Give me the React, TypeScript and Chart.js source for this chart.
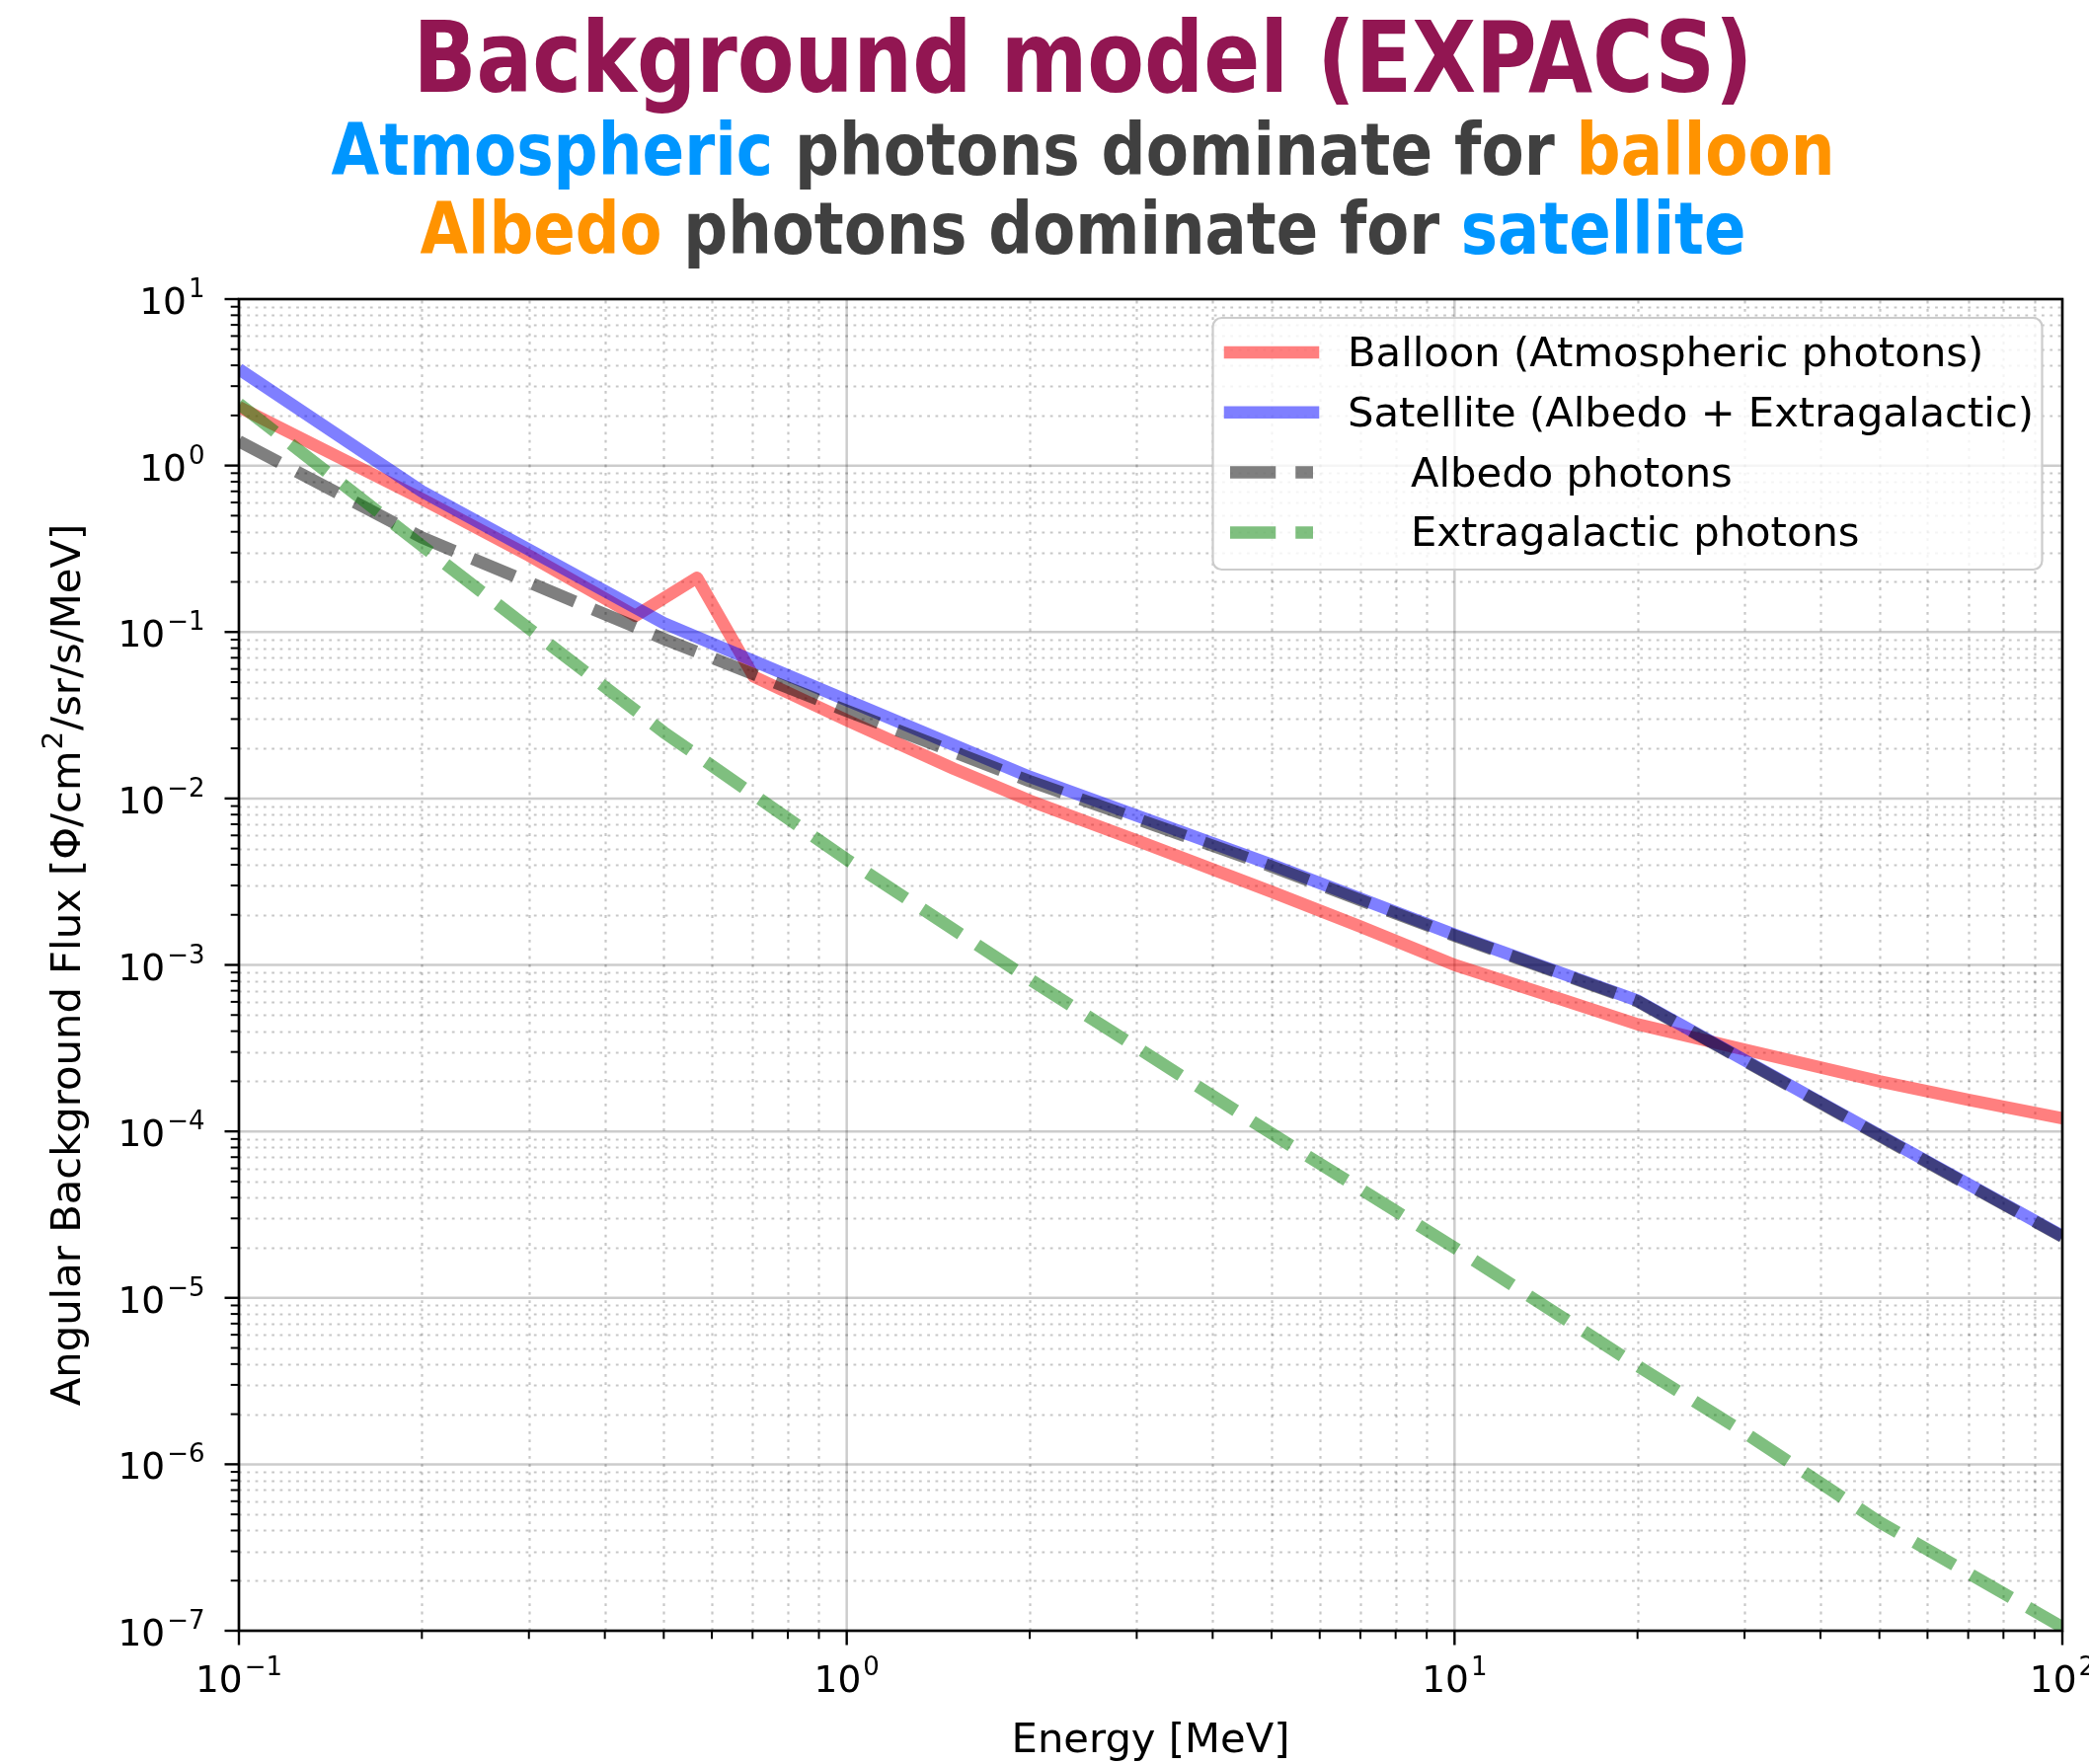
import React, { useEffect, useRef } from 'react';
import { Chart, registerables } from 'chart.js';

Chart.register(...registerables);

// ---------------- data ----------------
const balloonEnergy = [0.1, 0.2, 0.3, 0.449, 0.567, 0.703, 1, 1.5, 2, 3, 5, 7, 10, 15, 20, 30, 50, 70, 100];
const balloonFlux = [2.25, 0.63, 0.288, 0.125, 0.212, 0.054, 0.0295, 0.0151, 0.0097, 0.0056, 0.00275, 0.0017, 0.001, 0.00062, 0.00044, 0.00031, 0.0002, 0.000155, 0.00012];

const satelliteEnergy = [0.1, 0.2, 0.5, 1, 2, 5, 10, 20, 50, 100];
const satelliteFlux = [3.8, 0.7, 0.113, 0.039, 0.0135, 0.004, 0.00152, 0.00061, 0.000095, 0.0000235];

const albedoEnergy = [0.1, 0.2, 0.5, 1, 2, 5, 10, 20, 50, 100];
const albedoFlux = [1.4, 0.37, 0.091, 0.0336, 0.0127, 0.0039, 0.0015, 0.000605, 0.000094, 0.0000233];

const extraEnergy = [0.1, 0.2, 0.3, 0.5, 1, 2, 3, 5, 10, 20, 30, 50, 100];
const extraFlux = [2.35, 0.33, 0.105, 0.025, 0.0043, 0.00082, 0.00032, 0.000097, 0.00002, 0.0000039, 0.00000155, 0.00000045, 0.000000105];

const seriesLabels = ['Balloon (Atmospheric photons)', 'Satellite (Albedo + Extragalactic)', 'Albedo photons', 'Extragalactic photons'];
const seriesColors = ['rgba(255,0,0,0.5)', 'rgba(0,0,255,0.5)', 'rgba(0,0,0,0.5)', 'rgba(0,128,0,0.5)'];
const seriesDashed = [false, false, true, true];

const xTickExponents = [-1, 0, 1, 2];
const yTickExponents = [1, 0, -1, -2, -3, -4, -5, -6, -7];
const minorMultipliers = [2, 3, 4, 5, 6, 7, 8, 9];

const xAxisTitle = 'Energy [MeV]';
const yAxisTitleParts = ['Angular Background Flux [Φ/cm', '2', '/sr/s/MeV]'];

const MAROON = '#921652';
const BLUE = '#0096FF';
const ORANGE = '#FF9300';
const DARK = '#404040';
const titleSegments = [{ text: 'Background model (EXPACS)', color: MAROON }];
const subtitle1Segments = [
  { text: 'Atmospheric', color: BLUE },
  { text: ' photons dominate for ', color: DARK },
  { text: 'balloon', color: ORANGE },
];
const subtitle2Segments = [
  { text: 'Albedo', color: ORANGE },
  { text: ' photons dominate for ', color: DARK },
  { text: 'satellite', color: BLUE },
];

// ---------------- layout constants ----------------
const W = 2116;
const H = 1787;
const LW = 12.5;
const DASH = [46.25, 20];
const TICK_FONT = "37.5px 'DejaVu Sans', sans-serif";
const SUP_FONT = "26px 'DejaVu Sans', sans-serif";
const LABEL_FONT = "41.7px 'DejaVu Sans', sans-serif";
const LABEL_SUP_FONT = "29px 'DejaVu Sans', sans-serif";
const TITLE_FAMILY = "'DejaVu Sans Condensed', 'DejaVu Sans', sans-serif";

function toPoints(xs: number[], ys: number[]) {
  return xs.map((x, i) => ({ x, y: ys[i] }));
}

function drawSegments(ctx: CanvasRenderingContext2D, segs: { text: string; color: string }[], font: string, cx: number, baseline: number, targetWidth: number) {
  ctx.save();
  ctx.font = font;
  ctx.textBaseline = 'alphabetic';
  ctx.textAlign = 'left';
  const widths = segs.map((s) => ctx.measureText(s.text).width);
  const total = widths.reduce((a, b) => a + b, 0);
  const sx = targetWidth / total;
  ctx.translate(cx - targetWidth / 2, baseline);
  ctx.scale(sx, 1);
  let x = 0;
  segs.forEach((s, i) => {
    ctx.fillStyle = s.color;
    ctx.fillText(s.text, x, 0);
    x += widths[i];
  });
  ctx.restore();
}

function supLabel(e: number) {
  return e < 0 ? '\u2212' + Math.abs(e) : String(e);
}

const decorPlugin = {
  id: 'decor',
  beforeDraw(chart: any) {
    const ctx = chart.ctx as CanvasRenderingContext2D;
    ctx.save();
    ctx.fillStyle = '#ffffff';
    ctx.fillRect(0, 0, chart.width, chart.height);
    ctx.restore();
  },
  beforeDatasetsDraw(chart: any) {
    const ctx = chart.ctx as CanvasRenderingContext2D;
    const xs = chart.scales.x;
    const ys = chart.scales.y;
    const a = chart.chartArea;
    ctx.save();
    // minor grid (dotted)
    ctx.strokeStyle = 'rgba(0,0,0,0.22)';
    ctx.lineWidth = 2.2;
    ctx.setLineDash([2.8, 5.5]);
    for (let e = -1; e < 2; e++) {
      for (const m of minorMultipliers) {
        const px = Math.round(xs.getPixelForValue(m * Math.pow(10, e))) + 0.5;
        ctx.beginPath();
        ctx.moveTo(px, a.bottom);
        ctx.lineTo(px, a.top);
        ctx.stroke();
      }
    }
    for (let e = -7; e < 1; e++) {
      for (const m of minorMultipliers) {
        const py = Math.round(ys.getPixelForValue(m * Math.pow(10, e))) + 0.5;
        ctx.beginPath();
        ctx.moveTo(a.left, py);
        ctx.lineTo(a.right, py);
        ctx.stroke();
      }
    }
    // major grid (solid)
    ctx.setLineDash([]);
    ctx.strokeStyle = 'rgba(0,0,0,0.2)';
    ctx.lineWidth = 2.5;
    for (const e of xTickExponents) {
      const px = xs.getPixelForValue(Math.pow(10, e));
      ctx.beginPath();
      ctx.moveTo(px, a.bottom);
      ctx.lineTo(px, a.top);
      ctx.stroke();
    }
    for (const e of yTickExponents) {
      const py = ys.getPixelForValue(Math.pow(10, e));
      ctx.beginPath();
      ctx.moveTo(a.left, py);
      ctx.lineTo(a.right, py);
      ctx.stroke();
    }
    ctx.restore();
  },
  afterDatasetsDraw(chart: any) {
    const ctx = chart.ctx as CanvasRenderingContext2D;
    const xs = chart.scales.x;
    const ys = chart.scales.y;
    const a = chart.chartArea;
    ctx.save();
    // spines
    ctx.strokeStyle = '#000';
    ctx.lineWidth = 2.6;
    ctx.strokeRect(a.left, a.top, a.right - a.left, a.bottom - a.top);

    // ticks
    ctx.lineWidth = 2.4;
    for (const e of xTickExponents) {
      const px = xs.getPixelForValue(Math.pow(10, e));
      ctx.beginPath();
      ctx.moveTo(px, a.bottom);
      ctx.lineTo(px, a.bottom + 14.5);
      ctx.stroke();
    }
    ctx.lineWidth = 2;
    for (let e = -1; e < 2; e++) {
      for (const m of minorMultipliers) {
        const px = xs.getPixelForValue(m * Math.pow(10, e));
        ctx.beginPath();
        ctx.moveTo(px, a.bottom);
        ctx.lineTo(px, a.bottom + 8.3);
        ctx.stroke();
      }
    }
    ctx.lineWidth = 2.4;
    for (const e of yTickExponents) {
      const py = ys.getPixelForValue(Math.pow(10, e));
      ctx.beginPath();
      ctx.moveTo(a.left, py);
      ctx.lineTo(a.left - 14.5, py);
      ctx.stroke();
    }
    ctx.lineWidth = 2;
    for (let e = -7; e < 1; e++) {
      for (const m of minorMultipliers) {
        const py = ys.getPixelForValue(m * Math.pow(10, e));
        ctx.beginPath();
        ctx.moveTo(a.left, py);
        ctx.lineTo(a.left - 8.3, py);
        ctx.stroke();
      }
    }

    // tick labels
    ctx.fillStyle = '#000';
    ctx.textBaseline = 'alphabetic';
    ctx.textAlign = 'left';
    const gap = 2;
    for (const e of yTickExponents) {
      const py = ys.getPixelForValue(Math.pow(10, e));
      ctx.font = TICK_FONT;
      const wb = ctx.measureText('10').width;
      ctx.font = SUP_FONT;
      const sup = supLabel(e);
      const wsp = ctx.measureText(sup).width;
      const right = 207.5;
      const bx = right - wsp - gap - wb;
      ctx.font = TICK_FONT;
      ctx.fillText('10', bx, py + 15);
      ctx.font = SUP_FONT;
      ctx.fillText(sup, bx + wb + gap, py + 15 - 17);
    }
    for (const e of xTickExponents) {
      const px = xs.getPixelForValue(Math.pow(10, e));
      ctx.font = TICK_FONT;
      const wb = ctx.measureText('10').width;
      ctx.font = SUP_FONT;
      const sup = supLabel(e);
      const wsp = ctx.measureText(sup).width;
      const bx = px - (wb + gap + wsp) / 2;
      ctx.font = TICK_FONT;
      ctx.fillText('10', bx, 1713.5);
      ctx.font = SUP_FONT;
      ctx.fillText(sup, bx + wb + gap, 1713.5 - 17);
    }

    // axis titles
    ctx.font = LABEL_FONT;
    ctx.textAlign = 'center';
    ctx.fillText(xAxisTitle, (a.left + a.right) / 2, 1775);

    ctx.save();
    ctx.translate(81, (a.top + a.bottom) / 2);
    ctx.rotate(-Math.PI / 2);
    ctx.textAlign = 'left';
    ctx.font = LABEL_FONT;
    const w0 = ctx.measureText(yAxisTitleParts[0]).width;
    const w2 = ctx.measureText(yAxisTitleParts[2]).width;
    ctx.font = LABEL_SUP_FONT;
    const w1 = ctx.measureText(yAxisTitleParts[1]).width;
    const tot = w0 + w1 + w2 + 2;
    let x0 = -tot / 2;
    ctx.font = LABEL_FONT;
    ctx.fillText(yAxisTitleParts[0], x0, 0);
    x0 += w0 + 1;
    ctx.font = LABEL_SUP_FONT;
    ctx.fillText(yAxisTitleParts[1], x0, -18);
    x0 += w1 + 1;
    ctx.font = LABEL_FONT;
    ctx.fillText(yAxisTitleParts[2], x0, 0);
    ctx.restore();

    // legend
    const lx = 1228.5, ly = 322, lw = 840, lh = 255;
    ctx.beginPath();
    (ctx as any).roundRect(lx, ly, lw, lh, 9);
    ctx.fillStyle = 'rgba(255,255,255,0.8)';
    ctx.fill();
    ctx.strokeStyle = 'rgba(204,204,204,1)';
    ctx.lineWidth = 2.2;
    ctx.stroke();

    const baselines = [371, 431.8, 492.6, 553.4];
    const textX = [1365, 1365, 1429, 1429];
    seriesLabels.forEach((label, i) => {
      const cy = baselines[i] - 14;
      ctx.beginPath();
      ctx.strokeStyle = seriesColors[i];
      ctx.lineWidth = LW;
      if (seriesDashed[i]) {
        ctx.setLineDash(DASH);
        ctx.lineCap = 'butt';
      } else {
        ctx.setLineDash([]);
        ctx.lineCap = 'square';
      }
      ctx.moveTo(1246, cy);
      ctx.lineTo(1330, cy);
      ctx.stroke();
      ctx.setLineDash([]);
      ctx.lineCap = 'butt';
      ctx.fillStyle = '#000';
      ctx.font = LABEL_FONT;
      ctx.textAlign = 'left';
      ctx.fillText(label, textX[i], baselines[i]);
    });

    // titles
    drawSegments(ctx, titleSegments, `bold 100px ${TITLE_FAMILY}`, 1097, 92.7, 1357);
    drawSegments(ctx, subtitle1Segments, `bold 73px ${TITLE_FAMILY}`, 1097, 176.7, 1523);
    drawSegments(ctx, subtitle2Segments, `bold 73px ${TITLE_FAMILY}`, 1097, 256.7, 1343);
    ctx.restore();
  },
};

export default function App() {
  const canvasRef = useRef<HTMLCanvasElement | null>(null);

  useEffect(() => {
    const canvas = canvasRef.current;
    if (!canvas) return;
    const energies = [balloonEnergy, satelliteEnergy, albedoEnergy, extraEnergy];
    const fluxes = [balloonFlux, satelliteFlux, albedoFlux, extraFlux];
    const orders = [4, 3, 2, 1];
    const chart = new Chart(canvas, {
      type: 'line',
      data: {
        datasets: seriesLabels.map((label, i) => ({
          label,
          data: toPoints(energies[i], fluxes[i]),
          borderColor: seriesColors[i],
          backgroundColor: seriesColors[i],
          borderWidth: LW,
          borderDash: seriesDashed[i] ? DASH : [],
          borderCapStyle: 'butt',
          borderJoinStyle: 'round',
          pointRadius: 0,
          pointHoverRadius: 0,
          tension: 0,
          fill: false,
          clip: 0,
          order: orders[i],
        })),
      },
      options: {
        responsive: false,
        animation: false,
        devicePixelRatio: 1,
        events: [],
        layout: { padding: { left: 242, right: 27, top: 303, bottom: 135 } },
        plugins: {
          legend: { display: false },
          title: { display: false },
          tooltip: { enabled: false },
        },
        scales: {
          x: { type: 'logarithmic', min: 0.1, max: 100, display: false },
          y: { type: 'logarithmic', min: 1e-7, max: 10, display: false },
        },
      },
      plugins: [decorPlugin],
    } as any);
    return () => chart.destroy();
  }, []);

  return (
    <div style={{ position: 'fixed', left: 0, top: 0, width: W, height: H, background: '#fff' }}>
      <canvas ref={canvasRef} width={W} height={H} style={{ width: W, height: H, display: 'block' }} />
    </div>
  );
}
